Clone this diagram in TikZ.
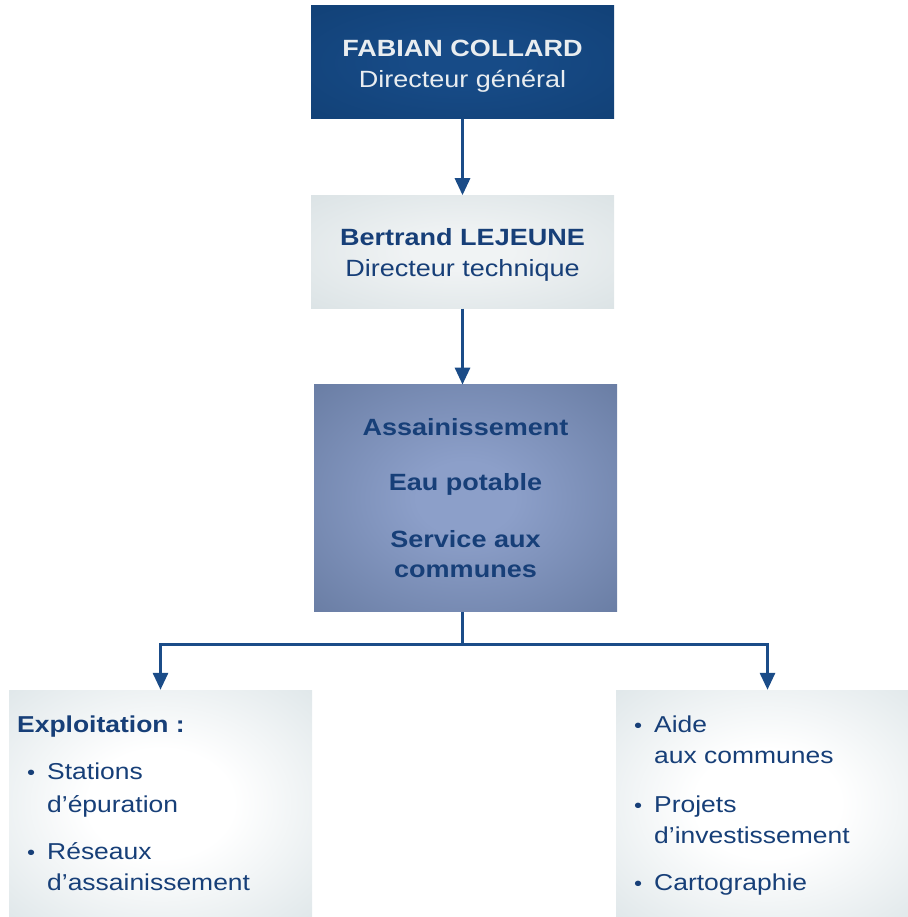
\documentclass[tikz,border=0pt]{standalone}
\usepackage{fontspec}
\setmainfont{Liberation Sans}[FakeStretch=1.15]
\usepackage{tikz}
\usetikzlibrary{positioning}
\usetikzlibrary{arrows.meta}

\definecolor{dirin}{HTML}{174B87}
\definecolor{dirout}{HTML}{0F3C6F}
\definecolor{dirtext}{HTML}{E9EDF0}
\definecolor{greyin}{HTML}{F0F3F4}
\definecolor{greyout}{HTML}{D1DBDE}
\definecolor{servin}{HTML}{8C9FC9}
\definecolor{servout}{HTML}{586C91}
\definecolor{listout}{HTML}{CDD9DD}
\definecolor{orgtext}{HTML}{173F78}
\definecolor{linkblue}{HTML}{1B4C88}

\pgfdeclareradialshading{dirglow}{\pgfpointorigin}{color(0bp)=(dirin); color(8bp)=(dirin); color(50bp)=(dirout)}
\pgfdeclareradialshading{greyglow}{\pgfpointorigin}{color(0bp)=(greyin); color(8bp)=(greyin); color(50bp)=(greyout)}
\pgfdeclareradialshading{servglow}{\pgfpointorigin}{color(0bp)=(servin); color(8bp)=(servin); color(50bp)=(servout)}
\pgfdeclareradialshading{listglow}{\pgfpointorigin}{color(0bp)=(white); color(12bp)=(white); color(50bp)=(listout)}

\tikzset{
  orgbox/.style={rectangle,minimum width=303pt,minimum height=113pt,inner sep=0pt,
    align=center,font=\fontsize{23.5}{31}\selectfont},
  topbox/.style={orgbox,shading=dirglow,text=dirtext},
  greybox/.style={orgbox,shading=greyglow,text=orgtext},
  servbox/.style={orgbox,minimum height=227pt,shading=servglow,
    text=orgtext,font=\fontsize{23.5}{30}\selectfont\bfseries},
  listbox/.style={orgbox,minimum height=227pt,shading=listglow},
  listtext/.style={anchor=base west,inner sep=0pt,text=orgtext,font=\fontsize{23}{28}\selectfont},
  dot/.style={listtext,font=\fontsize{20}{28}\selectfont},
  link/.style={draw=linkblue,line width=3pt},
  arrowed/.style={-{Triangle[width=15pt,length=17pt]}}
}

\begin{document}
\begin{tikzpicture}[x=1pt,y=-1pt]
\useasboundingbox (0,0) rectangle (907,917);

\node[topbox] (collard) at (462.5,62.5) {\rule{0pt}{23pt}\textbf{FABIAN COLLARD}\\Directeur général};
\node[greybox,below=76pt of collard] (lejeune) {\rule{0pt}{23pt}\textbf{Bertrand LEJEUNE}\\Directeur technique};
\node[servbox,below=76pt of lejeune,xshift=3pt] (services) {Assainissement\\[25pt]Eau potable\\[27pt]Service aux\\communes};

\node[listbox] (exploit) at (160.5,803.5) {};
\node[listbox] (aide) at (767.5,803.5) {};

% Exploitation
\node[listtext,font=\fontsize{23}{28}\selectfont\bfseries] (exptitle) at (17,732) {Exploitation :};
\node[dot] (expb1) at (27,779) {•};
\node[listtext] (exp1a) at (47,779) {Stations};
\node[listtext] (exp1b) at (47,812) {d’épuration};
\node[dot] (expb2) at (27,859) {•};
\node[listtext] (exp2a) at (47,859) {Réseaux};
\node[listtext] (exp2b) at (47,890) {d’assainissement};

% aide aux communes
\node[dot] (aideb1) at (634,732) {•};
\node[listtext] (aide1a) at (654,732) {Aide};
\node[listtext] (aide1b) at (654,763) {aux communes};
\node[dot] (aideb2) at (634,812) {•};
\node[listtext] (aide2a) at (654,812) {Projets};
\node[listtext] (aide2b) at (654,843) {d’investissement};
\node[dot] (aideb3) at (634,890) {•};
\node[listtext] (aide3a) at (654,890) {Cartographie};

\draw[link,arrowed] (collard) -- (lejeune);
\draw[link,arrowed] (lejeune) -- (lejeune |- services.north);
\draw[link] (services.south -| lejeune) -- ++(0,32) coordinate (split);
\draw[link,arrowed] (split) -| (exploit.north);
\draw[link,arrowed] (split) -| (aide.north);

\end{tikzpicture}
\end{document}
